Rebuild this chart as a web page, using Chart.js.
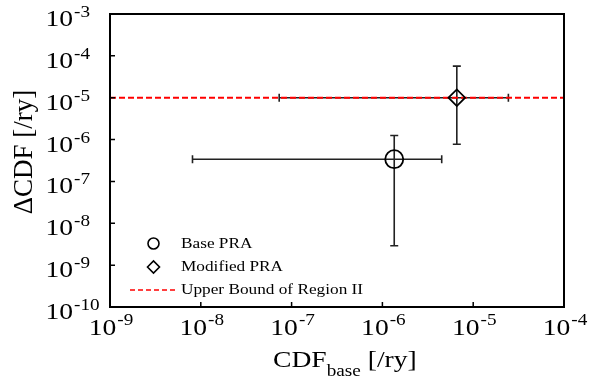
<!DOCTYPE html>
<html>
<head>
<meta charset="utf-8">
<script src="https://cdn.jsdelivr.net/npm/chart.js@4/dist/chart.umd.min.js"></script>
<style>
  html, body { margin: 0; padding: 0; background: #fff; }
  canvas { display: block; }
</style>
</head>
<body>
<canvas id="chart" width="589" height="380"></canvas>
<script>
// values
const seriesNames = ["Base PRA", "Modified PRA"];
const boundLabel = "Upper Bound of Region II";
const cdfBase = [1.35e-6, 6.6e-6];
const deltaCdf = [3.4e-7, 1.0e-5];
const cdfBaseLow = [8.1e-9, 7.3e-8];
const cdfBaseHigh = [4.5e-6, 2.44e-5];
const deltaCdfLow = [2.9e-9, 7.7e-7];
const deltaCdfHigh = [1.25e-6, 5.7e-5];
const upperBound = 1e-5;
const xTickExps = [-9, -8, -7, -6, -5, -4];
const yTickExps = [-10, -9, -8, -7, -6, -5, -4, -3];

const FONT = '"Liberation Serif", "Times New Roman", serif';
const STRETCH = 1.2;

function stretchedText(ctx, text, x, y, size, align, sx) {
    ctx.save();
    ctx.font = size + "px " + FONT;
    const w = ctx.measureText(text).width * sx;
    let left = x;
    if (align === "right") left = x - w;
    if (align === "center") left = x - w / 2;
    ctx.translate(left, y);
    ctx.scale(sx, 1);
    ctx.textAlign = "left";
    ctx.textBaseline = "alphabetic";
    ctx.fillText(text, 0, 0);
    ctx.restore();
    return w;
}
function textWidth(ctx, text, size, sx) {
    ctx.save();
    ctx.font = size + "px " + FONT;
    const w = ctx.measureText(text).width * sx;
    ctx.restore();
    return w;
}

function decadesOnly(scale) {
    scale.ticks = scale.ticks.filter((t) => {
        const e = Math.log10(t.value);
        return Math.abs(e - Math.round(e)) < 1e-6;
    });
}

const errorBars = {
    id: "errorBars",
    beforeDatasetsDraw(chart) {
        const ctx = chart.ctx;
        const xs = chart.scales.x, ys = chart.scales.y;
        ctx.save();
        ctx.strokeStyle = "#222";
        ctx.lineWidth = 1.6;
        for (let i = 0; i < cdfBase.length; i++) {
            const cx = xs.getPixelForValue(cdfBase[i]);
            const cy = ys.getPixelForValue(deltaCdf[i]);
            const x1 = xs.getPixelForValue(cdfBaseLow[i]);
            const x2 = xs.getPixelForValue(cdfBaseHigh[i]);
            const y1 = ys.getPixelForValue(deltaCdfLow[i]);
            const y2 = ys.getPixelForValue(deltaCdfHigh[i]);
            ctx.beginPath();
            ctx.moveTo(x1, cy); ctx.lineTo(x2, cy);
            ctx.moveTo(x1, cy - 4); ctx.lineTo(x1, cy + 4);
            ctx.moveTo(x2, cy - 4); ctx.lineTo(x2, cy + 4);
            ctx.moveTo(cx, y1); ctx.lineTo(cx, y2);
            ctx.moveTo(cx - 4, y1); ctx.lineTo(cx + 4, y1);
            ctx.moveTo(cx - 4, y2); ctx.lineTo(cx + 4, y2);
            ctx.stroke();
        }
        ctx.restore();
    },
};

const frame = {
    id: "frame",
    afterDraw(chart) {
        const ctx = chart.ctx;
        const a = chart.chartArea;
        const xs = chart.scales.x, ys = chart.scales.y;
        ctx.save();
        ctx.strokeStyle = "#000";
        ctx.lineWidth = 2;
        ctx.strokeRect(a.left, a.top, a.right - a.left, a.bottom - a.top);
        // inward tick marks
        ctx.lineWidth = 1.5;
        ctx.beginPath();
        xs.ticks.forEach((t) => {
            const px = xs.getPixelForValue(t.value);
            ctx.moveTo(px, a.bottom); ctx.lineTo(px, a.bottom - 5);
        });
        ys.ticks.forEach((t) => {
            const py = ys.getPixelForValue(t.value);
            ctx.moveTo(a.left, py); ctx.lineTo(a.left + 5, py);
        });
        ctx.stroke();

        ctx.fillStyle = "#000";
        // y tick labels
        yTickExps.forEach((e) => {
            const py = ys.getPixelForValue(Math.pow(10, e));
            stretchedText(ctx, "10", 73, py + 12, 23, "right", STRETCH);
            stretchedText(ctx, "-" + Math.abs(e), 74, py + 3, 16, "left", STRETCH);
        });
        // x tick labels
        xTickExps.forEach((e) => {
            const px = xs.getPixelForValue(Math.pow(10, e));
            const exp = "-" + Math.abs(e);
            const w1 = textWidth(ctx, "10", 23, STRETCH);
            const w2 = textWidth(ctx, exp, 16, STRETCH);
            const left = px - (w1 + 1 + w2) / 2 + 1;
            stretchedText(ctx, "10", left, 335, 23, "left", STRETCH);
            stretchedText(ctx, exp, left + w1 + 1, 325, 16, "left", STRETCH);
        });
        // x title: CDF_base [/ry]
        let tx = 273;
        tx += stretchedText(ctx, "CDF", tx, 367, 23, "left", STRETCH);
        tx += stretchedText(ctx, "base", tx, 376, 16, "left", STRETCH);
        stretchedText(ctx, " [/ry]", tx, 367, 23, "left", STRETCH);
        // y title
        ctx.save();
        ctx.translate(32, 152);
        ctx.rotate(-Math.PI / 2);
        ctx.font = "27px " + FONT;
        ctx.textAlign = "center";
        ctx.textBaseline = "alphabetic";
        ctx.fillText("\u0394CDF [/ry]", 0, 0);
        ctx.restore();

        // legend
        ctx.strokeStyle = "#000";
        ctx.lineWidth = 1.6;
        ctx.beginPath();
        ctx.arc(153.5, 243.5, 5.5, 0, Math.PI * 2);
        ctx.stroke();
        ctx.beginPath();
        ctx.moveTo(147.5, 267); ctx.lineTo(153.5, 261); ctx.lineTo(159.5, 267); ctx.lineTo(153.5, 273);
        ctx.closePath();
        ctx.stroke();
        ctx.strokeStyle = "#ff0000";
        ctx.lineWidth = 1.6;
        ctx.setLineDash([5, 3]);
        ctx.beginPath();
        ctx.moveTo(130, 290); ctx.lineTo(176, 290);
        ctx.stroke();
        ctx.setLineDash([]);
        stretchedText(ctx, seriesNames[0], 181, 248, 15, "left", 1.15);
        stretchedText(ctx, seriesNames[1], 181, 271, 15, "left", 1.15);
        stretchedText(ctx, boundLabel, 181, 294, 15, "left", 1.15);
        ctx.restore();
    },
};

new Chart(document.getElementById("chart"), {
    type: "scatter",
    data: {
        datasets: [
            {
                label: seriesNames[0],
                data: [{ x: cdfBase[0], y: deltaCdf[0] }],
                pointStyle: "circle",
                pointRadius: 9,
                borderColor: "#000",
                backgroundColor: "rgba(0,0,0,0)",
                borderWidth: 1.8,
                order: 0,
            },
            {
                label: seriesNames[1],
                data: [{ x: cdfBase[1], y: deltaCdf[1] }],
                pointStyle: "rectRot",
                pointRadius: 8.3,
                borderColor: "#000",
                backgroundColor: "rgba(0,0,0,0)",
                borderWidth: 1.8,
                order: 1,
            },
            {
                label: boundLabel,
                data: [{ x: 1e-9, y: upperBound }, { x: 1e-4, y: upperBound }],
                showLine: true,
                borderColor: "#ff0000",
                borderDash: [6, 3],
                borderWidth: 2,
                pointRadius: 0,
                order: 2,
            },
        ],
    },
    options: {
        responsive: false,
        animation: false,
        events: [],
        layout: { padding: { top: 14, right: 25, left: 0, bottom: 0 } },
        plugins: { legend: { display: false }, tooltip: { enabled: false } },
        scales: {
            x: {
                type: "logarithmic",
                min: 1e-9,
                max: 1e-4,
                grid: { display: false },
                border: { display: false },
                ticks: { display: false },
                afterBuildTicks: decadesOnly,
                afterFit: (s) => { s.height = 73; },
            },
            y: {
                type: "logarithmic",
                min: 1e-10,
                max: 1e-3,
                grid: { display: false },
                border: { display: false },
                ticks: { display: false },
                afterBuildTicks: decadesOnly,
                afterFit: (s) => { s.width = 110; },
            },
        },
    },
    plugins: [errorBars, frame],
});
</script>
</body>
</html>
